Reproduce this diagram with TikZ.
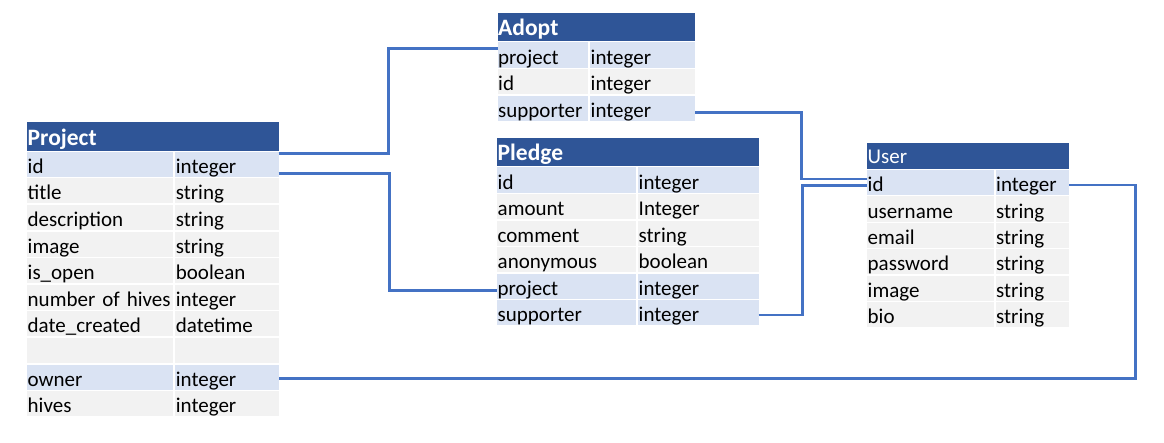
\documentclass[tikz,border=0pt]{standalone}
\usepackage{fontspec}
\setmainfont{Carlito}
\usetikzlibrary{calc}
\definecolor{hdrblue}{HTML}{2F5597}
\definecolor{rowb}{HTML}{DAE3F3}
\definecolor{rowg}{HTML}{F2F2F2}
\definecolor{connblue}{HTML}{4472C4}
\tikzset{
  cellbox/.style={rectangle, anchor=north west, inner xsep=0.5pt, inner ysep=0pt,
    text height=21.6pt, text depth=3.5pt, align=left,
    font=\fontsize{21}{25}\selectfont, text=black},
  hdrbox/.style={rectangle, anchor=north west, inner xsep=0.5pt, inner ysep=0pt,
    fill=hdrblue, text=white, align=left,
    text height=23.4pt, text depth=5pt, font=\bfseries\fontsize{23.5}{28}\selectfont},
  hdrsmall/.style={hdrbox, text height=20.6pt, text depth=5pt, font=\fontsize{21}{25}\selectfont},
  conn/.style={draw=connblue, line width=2.9pt}
}
\begin{document}
\begin{tikzpicture}[x=1pt,y=-1pt]
\useasboundingbox (0,0) rectangle (1164,442);
\fill[white] (0,0) rectangle (1164,442);

% ---------- Project ----------
\node[hdrbox, text width=250.3pt] (proj-h) at (27,122) {Project};
\foreach \n/\t/\c [count=\i from 0] in {id/integer/rowb, title/string/rowg,
  description/string/rowg, image/string/rowg, is\_open/boolean/rowg,
  number of hives/integer/rowg, date\_created/datetime/rowg, /{}/rowg,
  owner/integer/rowb, hives/integer/rowg}{
  \node[cellbox, fill=\c, text width=145.2pt] (proj-\i-a) at (27,{150+\i*26.6+1.5}) {\n};
  \node[cellbox, fill=\c, text width=102.1pt] (proj-\i-b) at (175.2,{150+\i*26.6+1.5}) {\t};
}

% ---------- Adopt ----------
\node[hdrbox, text width=196.5pt] (ad-h) at (497.5,12.3) {Adopt};
\foreach \n/\t/\c [count=\i from 0] in {project/integer/rowb, id/integer/rowg,
  supporter/integer/rowb}{
  \node[cellbox, fill=\c, text width=89.5pt] (ad-\i-a) at (497.5,{40.7+\i*26.67+1.5}) {\n};
  \node[cellbox, fill=\c, text width=104pt] (ad-\i-b) at (590,{40.7+\i*26.67+1.5}) {\t};
}

% ---------- Pledge ----------
\node[hdrbox, text width=260.3pt] (pl-h) at (497,137.3) {Pledge};
\foreach \n/\t/\c [count=\i from 0] in {id/integer/rowb, amount/Integer/rowg,
  comment/string/rowg, anonymous/boolean/rowg, project/integer/rowb,
  supporter/integer/rowb}{
  \node[cellbox, fill=\c, text width=138pt] (pl-\i-a) at (497,{165.7+\i*26.55+1.5}) {\n};
  \node[cellbox, fill=\c, text width=119.3pt] (pl-\i-b) at (638,{165.7+\i*26.55+1.5}) {\t};
}

% ---------- User ----------
\node[hdrsmall, text width=201pt] (us-h) at (867,142.7) {User};
\foreach \n/\t/\c [count=\i from 0] in {id/integer/rowb, username/string/rowg,
  email/string/rowg, password/string/rowg, image/string/rowg, bio/string/rowg}{
  \node[cellbox, fill=\c, text width=125.5pt] (us-\i-a) at (867,{168.3+\i*26.45+1.5}) {\n};
  \node[cellbox, fill=\c, text width=72.5pt] (us-\i-b) at (995.5,{168.3+\i*26.45+1.5}) {\t};
}

% ---------- connectors ----------
\draw[conn] ($(proj-0-b.north east)+(0,1.8)$) -- ++(109.4,0) |- ($(ad-0-a.north west)+(0,6.1)$);
\draw[conn] ($(proj-0-b.north east)+(0,21.8)$) -- ++(111,0) |- ($(pl-4-a.north west)+(0,17.3)$);
\draw[conn] ($(ad-2-b.north east)+(0,17.2)$) -- ++(106,0) |- ($(us-0-a.north west)+(0,9.2)$);
\draw[conn] ($(pl-5-b.north east)+(0,15)$) -- ++(44.2,0) |- ($(us-0-a.north west)+(0,15.7)$);
\draw[conn] ($(us-0-b.north east)+(0,15.2)$) -- ++(66,0) |- ($(proj-8-b.north east)+(0,14.5)$);
\end{tikzpicture}
\end{document}
